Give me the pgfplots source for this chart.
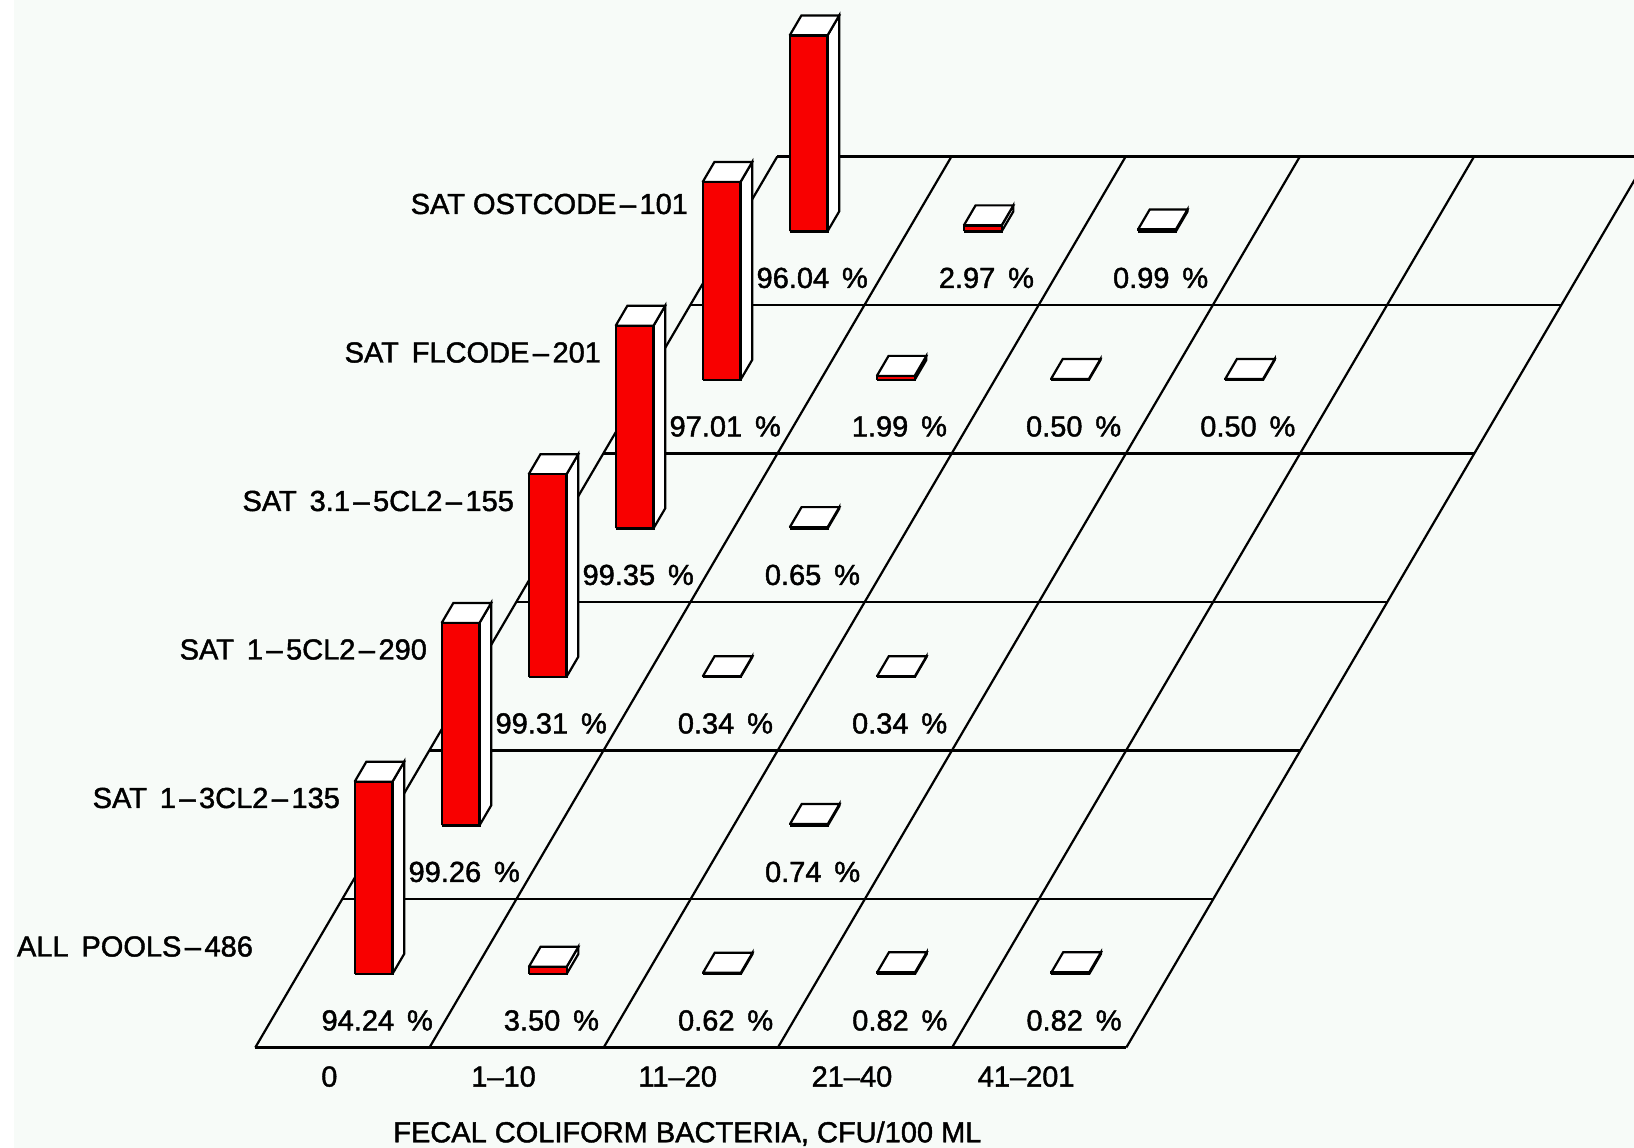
\documentclass[border=0pt]{standalone}
\usepackage{fontspec}
\newfontfamily\chartfont[FakeBold=1.5]{Liberation Sans}
\usepackage{pgfplots}
\pgfplotsset{compat=1.18}
\definecolor{bgc}{HTML}{F7FBF8}
\definecolor{barred}{HTML}{F80000}
\newcommand{\dsh}{\kern3.5pt–\kern3.5pt}

% one bar: column, row, percent
\newcommand{\pbar}[3]{%
  \pgfmathsetmacro{\xa}{#1+0.323}\pgfmathsetmacro{\xb}{#1+0.54}%
  \pgfmathsetmacro{\ya}{#2+0.495}\pgfmathsetmacro{\yb}{#2+0.63}%
  \addplot3[bx,fill=white] coordinates {(\xb,\ya,0) (\xb,\yb,0) (\xb,\yb,#3) (\xb,\ya,#3) (\xb,\ya,0)};
  \addplot3[bx,fill=white] coordinates {(\xa,\ya,#3) (\xb,\ya,#3) (\xb,\yb,#3) (\xa,\yb,#3) (\xa,\ya,#3)};
  \addplot3[bx,fill=barred] coordinates {(\xa,\ya,0) (\xb,\ya,0) (\xb,\ya,#3) (\xa,\ya,#3) (\xa,\ya,0)};
  \node[lab] at (axis cs:#1+0.609,#2+0.182,0) {#3\ \,\%};
}

\begin{document}
\begin{tikzpicture}[x=1pt,y=1pt,
    lab/.style={font=\chartfont\fontsize{29}{29}\selectfont,inner sep=0pt},
    bx/.style={draw=black,line width=2.2pt,line join=miter}]
  \path[use as bounding box] (0,0) rectangle (1634,1148);
  \clip (0,0) rectangle (1634,1148);
  \fill[white] (0,0) rectangle (1634,1148);
  \fill[bgc] (14,0) rectangle (1634,1148);
  \begin{axis}[
      at={(255.3pt,100.5pt)},anchor=origin,
      x={(174.2pt,0pt)},y={(87pt,148.5pt)},z={(0pt,2.04pt)},
      xmin=0,xmax=5,ymin=0,ymax=6,zmin=0,zmax=100,
      hide axis,clip=false]
    \pgfplotsinvokeforeach{0,...,6}{
      \addplot3[black,line width=2.2pt] coordinates {(0,#1,0) (5,#1,0)};
    }
    \pgfplotsinvokeforeach{0,...,5}{
      \addplot3[black,line width=2.2pt] coordinates {(#1,0,0) (#1,6,0)};
    }
    % back row first
    \pbar{0}{5}{96.04}\pbar{1}{5}{2.97}\pbar{2}{5}{0.99}
    \pbar{0}{4}{97.01}\pbar{1}{4}{1.99}\pbar{2}{4}{0.50}\pbar{3}{4}{0.50}
    \pbar{0}{3}{99.35}\pbar{1}{3}{0.65}
    \pbar{0}{2}{99.31}\pbar{1}{2}{0.34}\pbar{2}{2}{0.34}
    \pbar{0}{1}{99.26}\pbar{2}{1}{0.74}
    \pbar{0}{0}{94.24}\pbar{1}{0}{3.50}\pbar{2}{0}{0.62}\pbar{3}{0}{0.82}\pbar{4}{0}{0.82}
    % row names
    \node[lab,anchor=east] at (axis cs:-0.352,0.68,0) {ALL\ \,POOLS\dsh 486};
    \node[lab,anchor=east] at (axis cs:-0.352,1.68,0) {SAT\ \,1\dsh 3CL2\dsh 135};
    \node[lab,anchor=east] at (axis cs:-0.352,2.68,0) {SAT\ \,1\dsh 5CL2\dsh 290};
    \node[lab,anchor=east] at (axis cs:-0.352,3.68,0) {SAT\ \,3.1\dsh 5CL2\dsh 155};
    \node[lab,anchor=east] at (axis cs:-0.352,4.68,0) {SAT\ \,FLCODE\dsh 201};
    \node[lab,anchor=east] at (axis cs:-0.352,5.68,0) {SAT OSTCODE\dsh 101};
    % column names
    \node[lab] at (axis cs:0.523,-0.196,0) {0};
    \node[lab] at (axis cs:1.523,-0.196,0) {1–10};
    \node[lab] at (axis cs:2.523,-0.196,0) {11–20};
    \node[lab] at (axis cs:3.523,-0.196,0) {21–40};
    \node[lab] at (axis cs:4.523,-0.196,0) {41–201};
    \node[lab] at (axis cs:2.77,-0.58,0) {FECAL COLIFORM BACTERIA, CFU/100 ML};
  \end{axis}
\end{tikzpicture}
\end{document}
